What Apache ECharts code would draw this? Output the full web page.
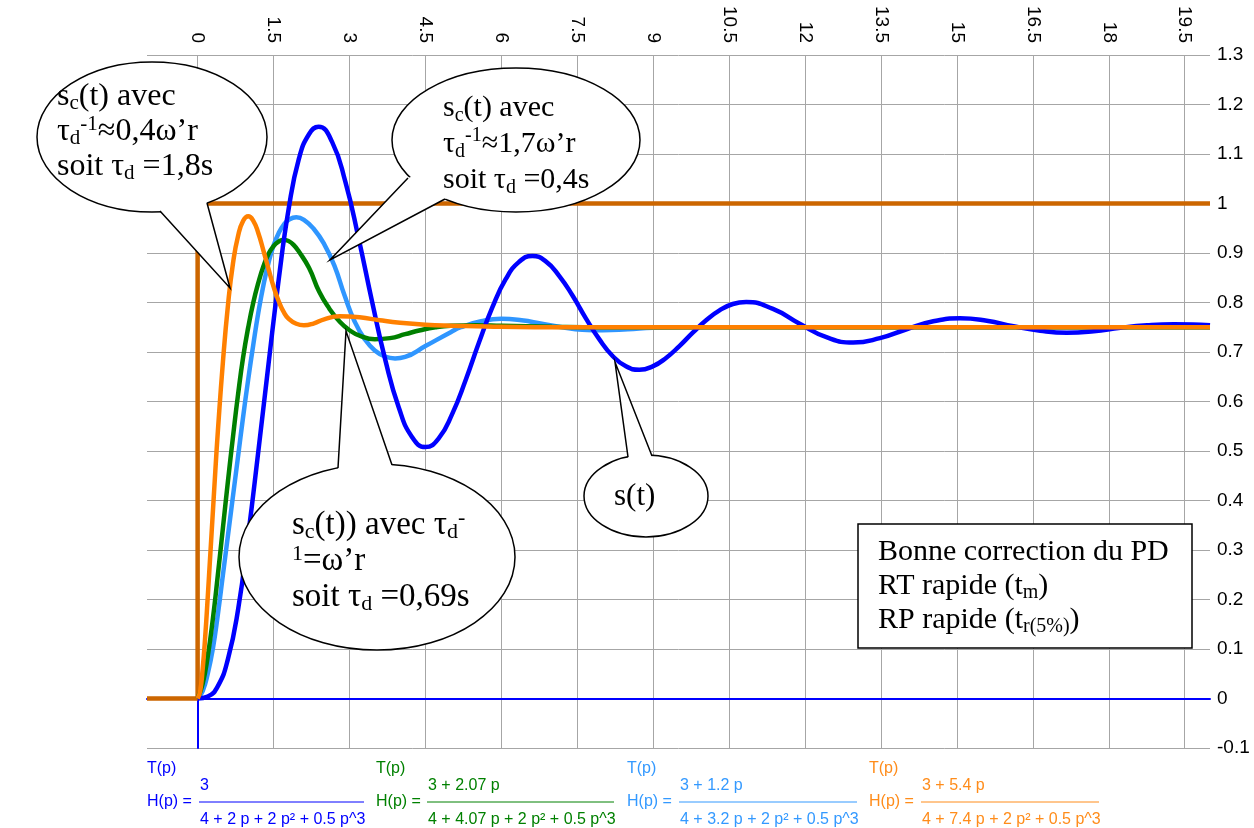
<!DOCTYPE html>
<html>
<head>
<meta charset="utf-8">
<script src="https://cdn.jsdelivr.net/npm/echarts@6/dist/echarts.min.js"></script>
<style>
  html, body { margin: 0; padding: 0; background: #fff; }
  #chart { width: 1254px; height: 828px; }
</style>
</head>
<body>
<div id="chart"></div>
<script>
// Time axis tick labels (s) and amplitude range
const xTickValues = [0, 1.5, 3, 4.5, 6, 7.5, 9, 10.5, 12, 13.5, 15, 16.5, 18, 19.5];
const xRange = [-1, 20];
const yRange = [-0.1, 1.3];
const yStep = 0.1;

// Unit step input e(t)
const stepT = [-1, 0, 0, 20];
const stepE = [0, 0, 1, 1];

// s(t) : uncorrected response, H(p) = 3 / (4 + 2p + 2p² + 0.5p³)
const blueT = [0, 0.2, 0.4, 0.6, 0.8, 1.0, 1.2, 1.4, 1.6, 1.8, 2.0, 2.2, 2.39,
  2.654, 2.918, 3.182, 3.446, 3.71, 3.974, 4.238, 4.502, 4.766, 5.03, 5.294, 5.558, 5.822, 6.086, 6.35, 6.614,
  6.878, 7.142, 7.406, 7.67, 7.934, 8.198, 8.462, 8.726, 8.99, 9.254, 9.518, 9.782, 10.046, 10.31, 10.574, 10.838,
  11.366, 11.894, 12.422, 12.95, 13.478, 14.006, 14.534, 15.062, 15.59, 16.118, 16.646, 17.174, 17.702, 18.23,
  18.758, 19.286, 19.814, 20];
const blueS = [0, 0.004, 0.025, 0.08, 0.18, 0.33, 0.5, 0.675, 0.845, 0.99, 1.09, 1.14, 1.155,
  1.125, 1.044, 0.929, 0.802, 0.683, 0.588, 0.528, 0.508, 0.526, 0.575, 0.643, 0.719, 0.790, 0.847, 0.882, 0.894,
  0.883, 0.854, 0.814, 0.768, 0.726, 0.692, 0.671, 0.664, 0.671, 0.688, 0.712, 0.739, 0.764, 0.784, 0.797, 0.801,
  0.787, 0.757, 0.730, 0.719, 0.728, 0.746, 0.762, 0.768, 0.763, 0.752, 0.743, 0.739, 0.742, 0.749,
  0.754, 0.756, 0.755, 0.754];

// sc(t) with τd = 0,69 s : H(p) = (3 + 2.07p) / (4 + 4.07p + 2p² + 0.5p³)
const greenT = [0, 0.1, 0.2, 0.3, 0.4, 0.5, 0.6, 0.7, 0.8, 0.9, 1.0, 1.1, 1.2, 1.3, 1.4, 1.5, 1.6, 1.7, 1.8, 1.9, 2.0,
  2.2, 2.4, 2.6, 2.8, 3.0, 3.2, 3.5, 3.8, 4.1, 4.4, 4.7, 5.0, 5.5, 6.0, 7.0, 8.0, 10, 12, 14, 16, 18, 20];
const greenS = [0, 0.03, 0.085, 0.16, 0.25, 0.345, 0.44, 0.53, 0.615, 0.69, 0.75, 0.80, 0.84, 0.873, 0.898, 0.914, 0.923, 0.927, 0.924, 0.916, 0.903,
  0.87, 0.822, 0.788, 0.762, 0.744, 0.733, 0.726, 0.728, 0.736, 0.744, 0.75, 0.753, 0.754, 0.753, 0.751, 0.75, 0.75, 0.75, 0.75, 0.75, 0.75, 0.75];

// sc(t) with τd = 0,4 s : H(p) = (3 + 1.2p) / (4 + 3.2p + 2p² + 0.5p³)
const lightT = [0, 0.1, 0.2, 0.3, 0.4, 0.5, 0.6, 0.7, 0.8, 0.9, 1.0, 1.1, 1.2, 1.3, 1.4, 1.5, 1.6, 1.7, 1.8, 1.95, 2.1,
  2.3, 2.5, 2.7, 2.9, 3.1, 3.3, 3.5, 3.7, 3.9, 4.1, 4.5, 5.0, 5.2, 5.6, 6.0, 6.4, 6.8, 7.2, 7.6, 8.0, 8.5, 9.0, 10, 12, 14, 16, 18, 20];
const lightS = [0, 0.015, 0.05, 0.1, 0.17, 0.25, 0.33, 0.41, 0.49, 0.57, 0.645, 0.715, 0.78, 0.835, 0.88, 0.915, 0.94, 0.957, 0.967, 0.972, 0.967,
  0.948, 0.918, 0.875, 0.815, 0.762, 0.726, 0.703, 0.691, 0.687, 0.69, 0.712, 0.74, 0.75, 0.762, 0.767, 0.764, 0.757, 0.75, 0.745, 0.744, 0.746, 0.749, 0.75, 0.75, 0.75, 0.75, 0.75, 0.75];

// sc(t) with τd = 1,8 s : H(p) = (3 + 5.4p) / (4 + 7.4p + 2p² + 0.5p³)
const orangeT = [0, 0.05, 0.1, 0.15, 0.2, 0.25, 0.3, 0.35, 0.4, 0.5, 0.6, 0.7, 0.8, 0.9, 1.0, 1.1, 1.2, 1.3, 1.4, 1.5, 1.6,
  1.7, 1.8, 1.95, 2.1, 2.3, 2.5, 2.8, 3.2, 3.6, 4.0, 4.5, 5.0, 5.5, 6.0, 7.0, 8, 10, 12, 14, 16, 18, 20];
const orangeS = [0, 0.015, 0.06, 0.125, 0.205, 0.29, 0.375, 0.46, 0.54, 0.68, 0.795, 0.88, 0.935, 0.965, 0.974, 0.965, 0.94, 0.905, 0.868, 0.832, 0.803,
  0.781, 0.767, 0.757, 0.754, 0.758, 0.766, 0.772, 0.770, 0.764, 0.759, 0.755, 0.753, 0.752, 0.751, 0.75, 0.75, 0.75, 0.75, 0.75, 0.75, 0.75, 0.75];

// Transfer function captions
const tfColors = ['#0000ff', '#008000', '#3399ff', '#ff8c1a'];
const tfNumerators = ['3', '3 + 2.07 p', '3 + 1.2 p', '3 + 5.4 p'];
const tfDenominators = ['4 + 2 p + 2 p² + 0.5 p^3', '4 + 4.07 p + 2 p² + 0.5 p^3', '4 + 3.2 p + 2 p² + 0.5 p^3', '4 + 7.4 p + 2 p² + 0.5 p^3'];

const zip = (t, v) => t.map((x, i) => [x, v[i]]);

const chart = echarts.init(document.getElementById('chart'), null, { renderer: 'canvas' });

const GRID = '#a6a6a6';
const SERIF = 'Liberation Serif';
const SANS = 'Liberation Sans';

function curve(name, t, v, color, z) {
  return {
    name, type: 'line', data: zip(t, v), showSymbol: false, smooth: 0.5, z,
    lineStyle: { color, width: 4.5 }, emphasis: { disabled: true }
  };
}

// Speech bubble: ellipse + pointed tail
function bubble(e, tail) {
  const [b1, tip, b2] = tail;
  const inward = p => {
    const dx = e.cx - p[0], dy = e.cy - p[1];
    const d = Math.hypot(dx, dy);
    return [p[0] + dx / d * 6, p[1] + dy / d * 6];
  };
  return [
    { type: 'ellipse', shape: e, style: { fill: '#fff', stroke: '#000', lineWidth: 1.5 }, z: 100 },
    { type: 'polygon', shape: { points: [inward(b1), b1, tip, b2, inward(b2)] }, style: { fill: '#fff', stroke: null }, z: 101 },
    { type: 'polyline', shape: { points: [b1, tip, b2] }, style: { fill: null, stroke: '#000', lineWidth: 1.5 }, z: 102 }
  ];
}

function makeRich(size, lh) {
  const small = Math.round(size * 0.66);
  return {
    n: { fontFamily: SERIF, fontSize: size, lineHeight: lh, fill: '#000' },
    sub: { fontFamily: SERIF, fontSize: small, lineHeight: small + 3, verticalAlign: 'bottom', fill: '#000' },
    sup: { fontFamily: SERIF, fontSize: small, lineHeight: small - 3, verticalAlign: 'top', fill: '#000' }
  };
}

function richText(x, y, text, size, lh) {
  return {
    type: 'text', x, y, z: 110,
    style: { text, rich: makeRich(size, lh), align: 'left', verticalAlign: 'top', fill: '#000' }
  };
}

const graphics = [];
graphics.push(...bubble({ cx: 152, cy: 137, rx: 115, ry: 75 }, [[160, 211], [230, 288], [207, 203]]));
graphics.push(richText(57, 79,
  '{n|s}{sub|c}{n|(t) avec}\n{n|τ}{sub|d}{sup|-1}{n|≈0,4ω’r}\n{n|soit τ}{sub|d}{n| =1,8s}', 32, 35));

graphics.push(...bubble({ cx: 516, cy: 140, rx: 124, ry: 72 }, [[408, 178], [330, 260], [445, 199]]));
graphics.push(richText(443, 90,
  '{n|s}{sub|c}{n|(t) avec}\n{n|τ}{sub|d}{sup|-1}{n|≈1,7ω’r}\n{n|soit τ}{sub|d}{n| =0,4s}', 30, 36));

graphics.push(...bubble({ cx: 377, cy: 557, rx: 138, ry: 93 }, [[338, 468], [346, 331], [392, 465]]));
graphics.push(richText(292, 507,
  '{n|s}{sub|c}{n|(t)) avec τ}{sub|d}{sup|-}\n{sup|1}{n|=ω’r}\n{n|soit τ}{sub|d}{n| =0,69s}', 33, 36));

graphics.push(...bubble({ cx: 646, cy: 496, rx: 62, ry: 41 }, [[628, 457], [615, 362], [652, 456]]));
graphics.push(richText(614, 479, '{n|s(t)}', 31, 35));

// Comment box
graphics.push({ type: 'rect', shape: { x: 858, y: 524, width: 334, height: 124 }, style: { fill: '#fff', stroke: '#000', lineWidth: 1.5 }, z: 100 });
graphics.push(richText(878, 535,
  '{n|Bonne correction du PD}\n{n|RT rapide (t}{sub|m}{n|)}\n{n|RP rapide (t}{sub|r(5%)}{n|)}', 30, 34));

// Transfer function captions under the plot
const capX = [147, 376, 627, 869];
const fracX = [[199, 364], [427, 614], [679, 857], [921, 1099]];
tfColors.forEach((c, i) => {
  const font = { fontFamily: SANS, fontSize: 16, fill: c };
  graphics.push({ type: 'text', x: capX[i], y: 769, style: Object.assign({ text: 'T(p)', verticalAlign: 'middle' }, font) });
  graphics.push({ type: 'text', x: capX[i], y: 802, style: Object.assign({ text: 'H(p) =', verticalAlign: 'middle' }, font) });
  graphics.push({ type: 'text', x: fracX[i][0] + 1, y: 786, style: Object.assign({ text: tfNumerators[i], verticalAlign: 'middle' }, font) });
  graphics.push({ type: 'line', shape: { x1: fracX[i][0], y1: 802, x2: fracX[i][1], y2: 802 }, style: { stroke: c, lineWidth: 1 } });
  graphics.push({ type: 'text', x: fracX[i][0] + 1, y: 820, style: Object.assign({ text: tfDenominators[i], verticalAlign: 'middle' }, font) });
});

const plotBox = { left: 147, right: 44, top: 55, bottom: 80 };
// band between -0.1 and 0 where the blue vertical axis shows
const lowBandTop = 828 - plotBox.bottom - (828 - plotBox.top - plotBox.bottom) * (0 - yRange[0]) / (yRange[1] - yRange[0]);

const option = {
  animation: false,
  backgroundColor: '#fff',
  grid: [
    Object.assign({ containLabel: false }, plotBox),
    { left: plotBox.left, right: plotBox.right, top: lowBandTop, bottom: plotBox.bottom, containLabel: false }
  ],
  xAxis: [
    {
      type: 'value', gridIndex: 0, position: 'top', min: xRange[0], max: xRange[1],
      axisLine: { show: false, onZero: false },
      axisTick: { show: false, customValues: xTickValues },
      axisLabel: { customValues: xTickValues, rotate: 90, fontSize: 19, fontFamily: SANS, color: '#000', margin: 12 },
      splitLine: { show: true, lineStyle: { color: GRID, width: 1 } }
    },
    {
      type: 'value', gridIndex: 0, position: 'bottom', min: xRange[0], max: xRange[1],
      axisLine: { show: true, onZero: true, lineStyle: { color: '#0000ff', width: 2 } },
      axisTick: { show: false }, axisLabel: { show: false }, splitLine: { show: false }
    },
    {
      type: 'value', gridIndex: 1, position: 'bottom', min: xRange[0], max: xRange[1],
      axisLine: { show: false, onZero: false },
      axisTick: { show: false }, axisLabel: { show: false }, splitLine: { show: false }
    }
  ],
  yAxis: [
    {
      type: 'value', gridIndex: 0, position: 'right', min: yRange[0], max: yRange[1], interval: yStep,
      axisLine: { show: false, onZero: false },
      axisTick: { show: false },
      axisLabel: { fontSize: 19, fontFamily: SANS, color: '#000', margin: 7 },
      splitLine: { show: true, lineStyle: { color: GRID, width: 1 } }
    },
    {
      type: 'value', gridIndex: 1, position: 'left', min: yRange[0], max: 0,
      axisLine: { show: true, onZero: true, lineStyle: { color: '#0000ff', width: 2 } },
      axisTick: { show: false }, axisLabel: { show: false }, splitLine: { show: false }
    }
  ],
  series: [
    {
      name: 'e(t)', type: 'line', data: zip(stepT, stepE), showSymbol: false, z: 2,
      lineStyle: { color: '#cc6600', width: 4.5 }, emphasis: { disabled: true }
    },
    curve('sc(t) τd=0,4s', lightT, lightS, '#2f96ff', 3),
    curve('sc(t) τd=0,69s', greenT, greenS, '#008000', 3),
    curve('s(t)', blueT, blueS, '#0000ff', 3),
    curve('sc(t) τd=1,8s', orangeT, orangeS, '#ff8000', 3)
  ],
  graphic: { elements: graphics }
};

chart.setOption(option);
</script>
</body>
</html>
